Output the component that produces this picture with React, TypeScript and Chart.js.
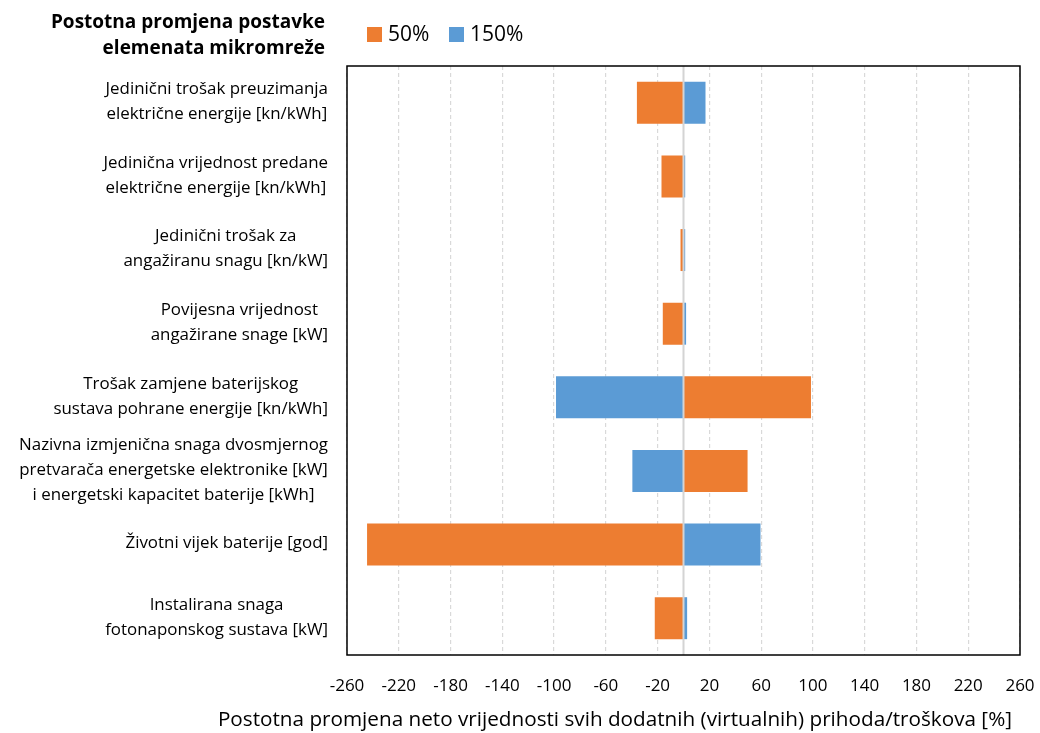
import React, { useEffect, useRef } from 'react';
import { Chart, registerables } from 'chart.js';

Chart.register(...registerables);

const categories: string[][] = [
  ['Jedinični trošak preuzimanja', 'električne energije [kn/kWh]'],
  ['Jedinična vrijednost predane', 'električne energije [kn/kWh]'],
  ['Jedinični trošak za', 'angažiranu snagu [kn/kW]'],
  ['Povijesna vrijednost', 'angažirane snage [kW]'],
  ['Trošak zamjene baterijskog', 'sustava pohrane energije [kn/kWh]'],
  ['Nazivna izmjenična snaga dvosmjernog', 'pretvarača energetske elektronike [kW]', 'i energetski kapacitet baterije [kWh]'],
  ['Životni vijek baterije [god]'],
  ['Instalirana snaga', 'fotonaponskog sustava [kW]'],
];

const seriesNames = ['50%', '150%'];
const series50 = [-36, -17, -2.3, -16, 98.5, 49.5, -244.5, -22.2];
const series150 = [17, 1.3, 1.3, 2, -98.5, -39.5, 59.5, 2.8];
const xTicks = [-260, -220, -180, -140, -100, -60, -20, 20, 60, 100, 140, 180, 220, 260];
const titleLines = ['Postotna promjena postavke', 'elemenata mikromreže'];
const xTitle = 'Postotna promjena neto vrijednosti svih dodatnih (virtualnih) prihoda/troškova [%]';

const ORANGE = '#ED7D31';
const BLUE = '#5B9BD5';
const FONT = '"Open Sans", "Noto Sans", sans-serif';

const decor = {
  id: 'decor',
  afterDatasetsDraw(chart: any) {
    const { ctx, chartArea: a, scales } = chart;
    const x0 = scales.x.getPixelForValue(0);
    ctx.save();
    // zero line
    ctx.strokeStyle = '#d4d4d4';
    ctx.lineWidth = 2;
    ctx.beginPath();
    ctx.moveTo(x0, a.top);
    ctx.lineTo(x0, a.bottom);
    ctx.stroke();
    // border
    ctx.strokeStyle = '#000';
    ctx.lineWidth = 1.5;
    ctx.strokeRect(a.left, a.top, a.right - a.left, a.bottom - a.top);

    // category labels (right-aligned blocks, centered lines)
    ctx.font = `16.9px ${FONT}`;
    ctx.fillStyle = '#000';
    ctx.textBaseline = 'middle';
    ctx.textAlign = 'center';
    const lh = 25;
    const right = a.left - 19;
    categories.forEach((lines, i) => {
      const y = scales.y.getPixelForValue(i) - 1;
      const w = Math.max(...lines.map((l) => ctx.measureText(l).width));
      const cx = right - w / 2;
      lines.forEach((l, j) => {
        ctx.fillText(l, cx, y + (j - (lines.length - 1) / 2) * lh);
      });
    });

    // title
    ctx.font = `bold 19px ${FONT}`;
    ctx.textAlign = 'right';
    titleLines.forEach((l, j) => ctx.fillText(l, 325, 22.5 + j * 26));

    // legend
    ctx.font = `21px ${FONT}`;
    ctx.textAlign = 'left';
    const legendX = [367, 449];
    chart.data.datasets.forEach((ds: any, k: number) => {
      ctx.fillStyle = ds.backgroundColor;
      ctx.fillRect(legendX[k], 27, 15, 15);
      ctx.fillStyle = '#000';
      ctx.fillText(ds.label, legendX[k] + 21, 35);
    });

    // x axis title
    ctx.font = `20.7px ${FONT}`;
    ctx.textAlign = 'right';
    ctx.fillText(xTitle, 1012, 720);
    ctx.restore();
  },
};

export default function App() {
  const ref = useRef<HTMLCanvasElement | null>(null);
  useEffect(() => {
    if (!ref.current) return;
    const chart = new Chart(ref.current, {
      type: 'bar',
      data: {
        labels: categories.map((c) => c.join(' ')),
        datasets: [
          { label: seriesNames[0], data: series50, backgroundColor: ORANGE, stack: 's', barPercentage: 0.57, categoryPercentage: 1 },
          { label: seriesNames[1], data: series150, backgroundColor: BLUE, stack: 's', barPercentage: 0.57, categoryPercentage: 1 },
        ],
      },
      options: {
        indexAxis: 'y',
        animation: false,
        responsive: true,
        maintainAspectRatio: false,
        layout: { padding: { top: 66, right: 20, left: 0, bottom: 0 } },
        plugins: { legend: { display: false }, tooltip: { enabled: false } },
        scales: {
          x: {
            stacked: true,
            min: -260,
            max: 260,
            afterBuildTicks: (s: any) => {
              s.ticks = xTicks.map((v) => ({ value: v }));
            },
            afterFit: (s: any) => {
              s.height = 78;
              s.paddingLeft = 0;
              s.paddingRight = 0;
            },
            grid: { color: '#d9d9d9', lineWidth: 1.2, drawTicks: false },
            border: { display: false, dash: [4, 3] },
            ticks: {
              autoSkip: false,
              maxRotation: 0,
              padding: 21,
              color: '#000',
              font: { family: FONT, size: 17 },
            },
            title: { display: false },
          },
          y: {
            stacked: true,
            afterFit: (s: any) => {
              s.width = 347;
            },
            grid: { display: false },
            border: { display: false },
            ticks: { display: false },
          },
        },
      },
      plugins: [decor],
    });
    return () => chart.destroy();
  }, []);
  return (
    <div style={{ position: 'fixed', left: 0, top: 0, width: 1040, height: 733, background: '#fff' }}>
      <canvas ref={ref} />
    </div>
  );
}
